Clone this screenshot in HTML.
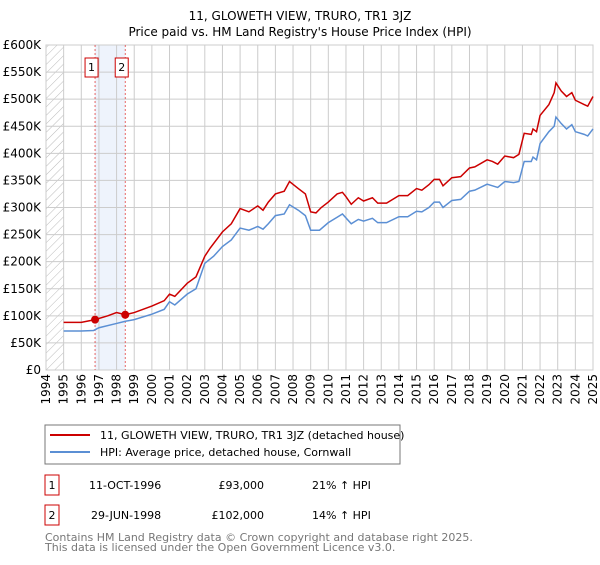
<!DOCTYPE html>
<html><head><meta charset="utf-8"><style>
body{margin:0;background:#fff;font-family:"Liberation Sans","DejaVu Sans",sans-serif;}
svg text{font-family:"DejaVu Sans","Liberation Sans",sans-serif;}
</style></head><body>
<svg width="600" height="560" viewBox="0 0 600 560">
<defs><pattern id="hatch" width="6" height="6" patternUnits="userSpaceOnUse" patternTransform="rotate(45)"><line x1="0" y1="0" x2="0" y2="6" stroke="#bbb" stroke-width="1"/></pattern></defs>
<text x="300" y="20" text-anchor="middle" font-size="12">11, GLOWETH VIEW, TRURO, TR1 3JZ</text>
<text x="300" y="36" text-anchor="middle" font-size="12">Price paid vs. HM Land Registry's House Price Index (HPI)</text>
<g id="grid"></g><g id="marks"></g><g id="axes"></g>
<rect x="45" y="425" width="355" height="39" fill="#fff" stroke="#777"/>
<line x1="50" y1="435" x2="90" y2="435" stroke="#cc0000" stroke-width="2"/>
<text x="100" y="439" font-size="11">11, GLOWETH VIEW, TRURO, TR1 3JZ (detached house)</text>
<line x1="50" y1="452" x2="90" y2="452" stroke="#5b8fd4" stroke-width="2"/>
<text x="100" y="456" font-size="11">HPI: Average price, detached house, Cornwall</text>
<g font-size="11">
<rect x="45" y="475" width="14" height="20" fill="#fff" stroke="#cc0000"/><text x="52" y="489" text-anchor="middle">1</text>
<text x="89" y="489">11-OCT-1996</text><text x="264" y="489" text-anchor="end">£93,000</text><text x="312" y="489">21% ↑ HPI</text></g>
<g font-size="11">
<rect x="45" y="505" width="14" height="20" fill="#fff" stroke="#cc0000"/><text x="52" y="519" text-anchor="middle">2</text>
<text x="91" y="519">29-JUN-1998</text><text x="264" y="519" text-anchor="end">£102,000</text><text x="312" y="519">14% ↑ HPI</text></g>
<text x="45" y="541" font-size="11" fill="#777">Contains HM Land Registry data © Crown copyright and database right 2025.</text>
<text x="45" y="551" font-size="11" fill="#777">This data is licensed under the Open Government Licence v3.0.</text>
</svg>
<script>
const yTicks=[0,50,100,150,200,250,300,350,400,450,500,550,600];
const yLabels=["£0","£50K","£100K","£150K","£200K","£250K","£300K","£350K","£400K","£450K","£500K","£550K","£600K"];
const years=[1994,1995,1996,1997,1998,1999,2000,2001,2002,2003,2004,2005,2006,2007,2008,2009,2010,2011,2012,2013,2014,2015,2016,2017,2018,2019,2020,2021,2022,2023,2024,2025];
const redT=[1995,1996,1996.78,1997.5,1998,1998.49,1999,2000,2000.7,2001,2001.3,2002,2002.5,2003,2003.3,2004,2004.5,2005,2005.5,2006,2006.3,2006.6,2007,2007.5,2007.8,2008.3,2008.7,2009,2009.3,2009.6,2010,2010.5,2010.8,2011,2011.3,2011.7,2012,2012.5,2012.8,2013.3,2014,2014.5,2015,2015.3,2015.7,2016,2016.3,2016.5,2017,2017.5,2018,2018.3,2019,2019.3,2019.6,2020,2020.5,2020.8,2021.1,2021.5,2021.6,2021.8,2022,2022.5,2022.8,2022.9,2023.2,2023.5,2023.8,2024,2024.5,2024.7,2025];
const redV=[88,88,93,100,106,102,106,118,128,140,136,160,172,210,225,255,270,298,292,303,295,310,325,330,348,335,325,292,290,300,310,325,328,320,306,318,312,318,308,308,322,322,335,332,342,352,352,340,355,357,373,375,388,385,380,395,392,398,437,435,445,440,470,490,512,530,515,505,512,498,490,487,505];
const blueT=[1995,1996,1996.7,1997,1998,1998.5,1999,2000,2000.7,2001,2001.3,2002,2002.5,2003,2003.5,2004,2004.5,2005,2005.5,2006,2006.3,2006.6,2007,2007.5,2007.8,2008.3,2008.7,2009,2009.5,2010,2010.5,2010.8,2011.3,2011.7,2012,2012.5,2012.8,2013.3,2014,2014.5,2015,2015.3,2015.7,2016,2016.3,2016.5,2017,2017.5,2018,2018.3,2019,2019.3,2019.6,2020,2020.5,2020.8,2021.1,2021.5,2021.6,2021.8,2022,2022.5,2022.8,2022.9,2023.2,2023.5,2023.8,2024,2024.5,2024.7,2025];
const blueV=[72,72,73,78,86,90,93,103,112,126,120,140,150,197,210,228,240,262,258,265,260,270,285,288,305,295,285,258,258,272,282,288,270,278,275,280,272,272,283,283,293,292,300,310,310,300,313,315,330,332,343,340,337,348,346,348,385,385,393,388,418,440,450,467,455,445,453,440,435,432,445];
const saleT=[1996.78,1998.49];
const saleV=[93,102];
const saleLabels=["1","2"];
const NS="http://www.w3.org/2000/svg";
const X0=46,X1=593,Y0=370,Y1=45;
const xs=t=>X0+(t-1994)/(2025-1994)*(X1-X0);
const ys=v=>Y0-v/600*(Y0-Y1);
function mk(tag,attrs,parent){const e=document.createElementNS(NS,tag);for(const k in attrs)e.setAttribute(k,attrs[k]);parent.appendChild(e);return e;}
const grid=document.getElementById('grid'),marks=document.getElementById('marks'),axes=document.getElementById('axes');
const bg=mk('rect',{x:X0,y:Y1,width:xs(1995)-X0,height:Y0-Y1,fill:'url(#hatch)'},grid);

const band=mk('rect',{x:xs(saleT[0]),y:Y1,width:xs(saleT[1])-xs(saleT[0]),height:Y0-Y1,fill:'#eef3fc'},grid);

yTicks.forEach((v,i)=>{
 const l=mk('line',{x1:X0,x2:X1,y1:ys(v),y2:ys(v),stroke:'#ccc'},grid);
 
 const t=mk('text',{x:X0-5,y:ys(v)+4,'text-anchor':'end','font-size':'12'},axes);t.textContent=yLabels[i];
 
});
years.forEach(y=>{
 const l=mk('line',{x1:xs(y),x2:xs(y),y1:Y1,y2:Y0,stroke:'#ccc'},grid);
 
 const t=mk('text',{x:0,y:0,'text-anchor':'end','font-size':'12',transform:`translate(${xs(y)+4},${Y0+4}) rotate(-90)`},axes);t.textContent=y;
 
});
const ax=mk('rect',{x:X0,y:Y1,width:X1-X0,height:Y0-Y1,fill:'none',stroke:'#ccc'},grid);

saleT.forEach((t,i)=>{
 const l=mk('line',{x1:xs(t),x2:xs(t),y1:Y1,y2:Y0,stroke:'#e04040','stroke-dasharray':'2,2','stroke-width':'0.8'},marks);
 
 const r=mk('rect',{x:xs(t)-10,y:58,width:13,height:19,fill:'#fff',stroke:'#cc0000'},marks);
 
 const tx=mk('text',{x:xs(t)-3.5,y:71,'text-anchor':'middle','font-size':'11'},marks);tx.textContent=saleLabels[i];
 
});
function line(T,V,col,name){const p=mk('polyline',{points:T.map((t,i)=>xs(t)+','+ys(V[i])).join(' '),fill:'none',stroke:col,'stroke-width':'1.5'},marks);
 }
line(blueT,blueV,'#5b8fd4','hpi-line');
line(redT,redV,'#cc0000','property-price-line');
saleT.forEach((t,i)=>{const c=mk('circle',{cx:xs(t),cy:ys(saleV[i]),r:4,fill:'#cc0000'},marks);
 });
</script>
</body></html>
